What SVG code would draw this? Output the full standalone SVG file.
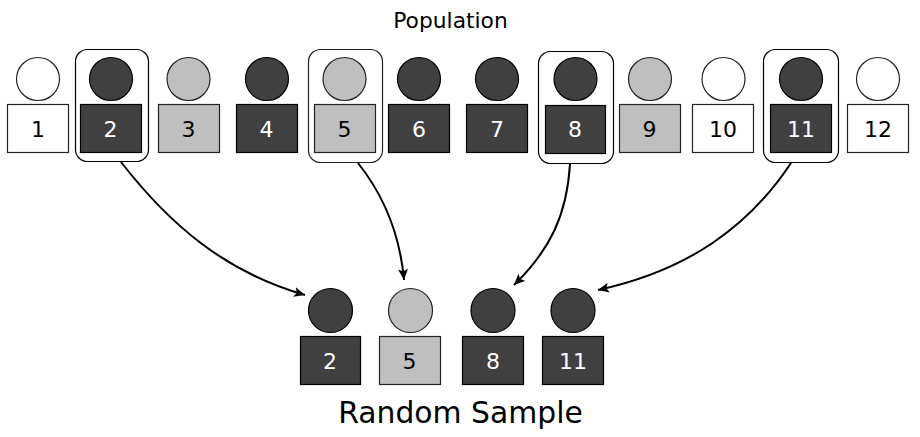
<svg xmlns="http://www.w3.org/2000/svg" width="920" height="437" viewBox="0 0 920 437">
<style>
text{font-family:"DejaVu Sans",sans-serif;text-anchor:middle}
.n{font-size:22px}
.k circle,.k rect{fill:#404040;stroke:#000;stroke-width:1.2}
.g circle,.g rect{fill:#bfbfbf;stroke:#222;stroke-width:1.2}
.w circle,.w rect{fill:#fff;stroke:#222;stroke-width:1.2}
.k text{fill:#fff}.g text,.w text{fill:#000}
.f{fill:none;stroke:#000;stroke-width:1.3}
.c{fill:none;stroke:#000;stroke-width:2;marker-end:url(#a)}
</style>
<defs><marker id="a" markerUnits="userSpaceOnUse" markerWidth="14" markerHeight="12" refX="11" refY="5" orient="auto"><path d="M0 0L11 5L0 10L2.500 5Z" fill="#000"/></marker></defs>
<rect width="920" height="437" fill="#fff"/>
<text x="450.500" y="28" font-size="21.800">Population</text>
<text x="460.500" y="423" font-size="29.800">Random Sample</text>
<g id="p1" class="w"><circle cx="38" cy="79" r="21.500"/><rect x="7.500" y="104.500" width="61" height="48"/><text class="n" x="38" y="137">1</text></g>
<g id="p2" class="k"><rect class="f" style="fill:none" x="75.500" y="49.500" width="73" height="112" rx="12"/><circle cx="111" cy="79" r="21.500"/><rect x="80.500" y="104.500" width="61" height="48"/><text class="n" x="110.500" y="137">2</text></g>
<g id="p3" class="g"><circle cx="188.500" cy="79" r="21.500"/><rect x="158.500" y="104.500" width="61" height="48"/><text class="n" x="188.500" y="137">3</text></g>
<g id="p4" class="k"><circle cx="267" cy="79" r="21.500"/><rect x="236.500" y="104.500" width="61" height="48"/><text class="n" x="266.500" y="137">4</text></g>
<g id="p5" class="g"><rect class="f" style="fill:none" x="308.500" y="49.500" width="74" height="113" rx="12"/><circle cx="344.500" cy="79" r="21.500"/><rect x="314.500" y="104.500" width="61" height="48"/><text class="n" x="344.500" y="137">5</text></g>
<g id="p6" class="k"><circle cx="419" cy="79" r="21.500"/><rect x="388.500" y="104.500" width="61" height="48"/><text class="n" x="419" y="137">6</text></g>
<g id="p7" class="k"><circle cx="497" cy="79" r="21.500"/><rect x="466.500" y="104.500" width="61" height="48"/><text class="n" x="497" y="137">7</text></g>
<g id="p8" class="k"><rect class="f" style="fill:none" x="538.500" y="51.500" width="75" height="112" rx="12"/><circle cx="575.500" cy="79" r="21.500"/><rect x="545.500" y="105.500" width="60" height="48"/><text class="n" x="575" y="137">8</text></g>
<g id="p9" class="g"><circle cx="650" cy="79" r="21.500"/><rect x="619.500" y="104.500" width="61" height="48"/><text class="n" x="649.500" y="137">9</text></g>
<g id="p10" class="w"><circle cx="723.500" cy="79" r="21.500"/><rect x="692.500" y="104.500" width="61" height="48"/><text class="n" x="723" y="137">10</text></g>
<g id="p11" class="k"><rect class="f" style="fill:none" x="763.500" y="49.500" width="75" height="113" rx="12"/><circle cx="801" cy="79" r="21.500"/><rect x="770.500" y="104.500" width="61" height="48"/><text class="n" x="801" y="137">11</text></g>
<g id="p12" class="w"><circle cx="878" cy="79" r="21.500"/><rect x="847.500" y="104.500" width="61" height="48"/><text class="n" x="878" y="137">12</text></g>
<g id="s2" class="k"><circle cx="330.500" cy="310.500" r="22"/><rect x="300.500" y="336.500" width="60" height="48"/><text class="n" x="330" y="369">2</text></g>
<g id="s5" class="g"><circle cx="410.500" cy="310.500" r="22"/><rect x="379.500" y="336.500" width="61" height="48"/><text class="n" x="409.500" y="369">5</text></g>
<g id="s8" class="k"><circle cx="493" cy="310.500" r="22"/><rect x="462.500" y="336.500" width="61" height="48"/><text class="n" x="493" y="369">8</text></g>
<g id="s11" class="k"><circle cx="573" cy="310.500" r="22"/><rect x="542.500" y="336.500" width="61" height="48"/><text class="n" x="573" y="369">11</text></g>
<g id="connectors">
<path class="c" d="M121 162C170 225 225 272 305 295"/>
<path class="c" d="M358 163C385 197 400 235 404 280"/>
<path class="c" d="M570 164C567 215 550 250 514 285"/>
<path class="c" d="M791 163C750 225 690 270 598 290"/>
</g>
</svg>
